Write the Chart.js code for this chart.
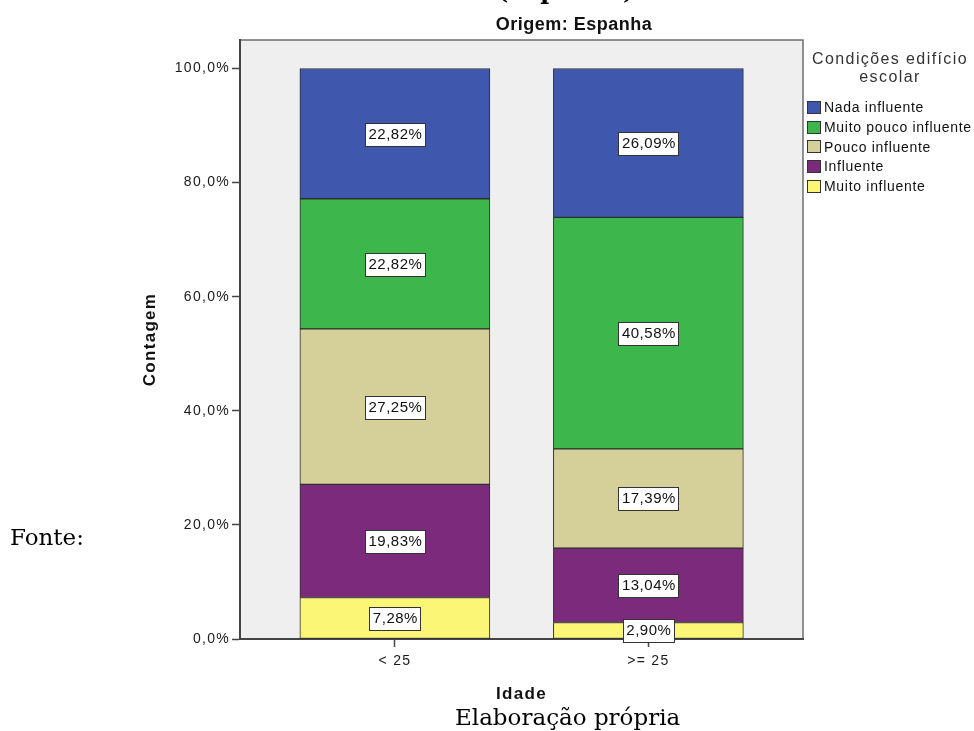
<!DOCTYPE html>
<html>
<head>
<meta charset="utf-8">
<script src="https://cdn.jsdelivr.net/npm/chart.js@4/dist/chart.umd.min.js"></script>
<style>
  html, body { margin: 0; padding: 0; background: #ffffff; }
  canvas { display: block; }
</style>
</head>
<body>
<canvas id="chart" width="974" height="731"></canvas>
<script>
// Age groups and their positions on the horizontal axis
const ageGroups = ['< 25', '>= 25'];
const groupPositions = [0, 1];

// Percent of answers per age group, stacked from the bottom up
const muitoInfluente = [7.28, 2.90];
const influente = [19.83, 13.04];
const poucoInfluente = [27.25, 17.39];
const muitoPoucoInfluente = [22.82, 40.58];
const nadaInfluente = [22.82, 26.09];

const seriesNames = ['Muito influente', 'Influente', 'Pouco influente', 'Muito pouco influente', 'Nada influente'];
const seriesValues = [muitoInfluente, influente, poucoInfluente, muitoPoucoInfluente, nadaInfluente];
const seriesColors = ['#fbf676', '#7b2a7c', '#d5cf99', '#3db74b', '#3f58ad'];

const yTicks = [0, 20, 40, 60, 80, 100];

const chartTitle = 'Origem: Espanha';
const legendTitle = ['Condições edifício', 'escolar'];
const headingAbove = '(Espanha)';
const sourceLabel = 'Fonte:';
const sourceText = 'Elaboração própria';

const SANS = "'Liberation Sans', Arial, sans-serif";
const SERIF = "'DejaVu Serif', 'Liberation Serif', serif";

const fmtPct = v => v.toFixed(2).replace('.', ',') + '%';
const fmtTick = v => v.toFixed(1).replace('.', ',') + '%';

// Grey plot panel with its frame
const panelPlugin = {
  id: 'panel',
  beforeDraw(chart) {
    const ctx = chart.ctx;
    const { left, top, right, bottom } = chart.chartArea;
    ctx.save();
    ctx.fillStyle = '#efefef';
    ctx.fillRect(left, top, right - left, bottom - top);
    ctx.strokeStyle = '#6f6f6f';
    ctx.lineWidth = 1.5;
    ctx.beginPath();
    ctx.moveTo(left, top);
    ctx.lineTo(right, top);
    ctx.lineTo(right, bottom);
    ctx.stroke();
    ctx.restore();
    ctx.letterSpacing = '1.3px';
  }
};

// Boxed percentage labels centred in every segment
const segmentLabels = {
  id: 'segmentLabels',
  afterDatasetsDraw(chart) {
    const ctx = chart.ctx;
    ctx.save();
    ctx.letterSpacing = '0.5px';
    ctx.font = '15px ' + SANS;
    ctx.textAlign = 'center';
    ctx.textBaseline = 'middle';
    chart.data.datasets.forEach((ds, di) => {
      const meta = chart.getDatasetMeta(di);
      meta.data.forEach((el, i) => {
        const { x, y, base } = el.getProps(['x', 'y', 'base'], true);
        const cy = Math.round((y + base) / 2);
        const text = fmtPct(ds.data[i].y);
        const w = Math.round(ctx.measureText(text).width) + 6;
        const h = 23;
        const bx = Math.round(x - w / 2) + 0.5;
        const by = Math.round(cy - h / 2) + 0.5;
        ctx.fillStyle = '#ffffff';
        ctx.fillRect(bx, by, w, h);
        ctx.strokeStyle = '#333333';
        ctx.lineWidth = 1;
        ctx.strokeRect(bx, by, w, h);
        ctx.fillStyle = '#111111';
        ctx.fillText(text, x + 0.5, cy + 1);
      });
    });
    ctx.restore();
  }
};

// Title, legend and surrounding text
const decorations = {
  id: 'decorations',
  afterDraw(chart) {
    const ctx = chart.ctx;
    ctx.save();

    ctx.letterSpacing = '0px';
    ctx.fillStyle = '#000000';
    ctx.font = 'bold 24px ' + SERIF;
    ctx.textAlign = 'left';
    ctx.textBaseline = 'alphabetic';
    ctx.fillText(headingAbove, 497, -1.5);

    ctx.font = '23px ' + SERIF;
    ctx.fillText(sourceLabel, 10, 545);
    ctx.fillText(sourceText, 455, 725);

    ctx.letterSpacing = '0.5px';
    ctx.fillStyle = '#111111';
    ctx.font = 'bold 18px ' + SANS;
    ctx.textAlign = 'center';
    ctx.textBaseline = 'middle';
    ctx.fillText(chartTitle, 574, 25);

    ctx.letterSpacing = '1.4px';
    ctx.font = '16px ' + SANS;
    ctx.fillStyle = '#333333';
    legendTitle.forEach((line, k) => ctx.fillText(line, 890, 60 + k * 18));

    ctx.letterSpacing = '0.7px';
    ctx.font = '14px ' + SANS;
    ctx.textAlign = 'left';
    ctx.fillStyle = '#111111';
    const order = chart.data.datasets.map((d, i) => i).reverse();
    order.forEach((di, row) => {
      const ds = chart.data.datasets[di];
      const cy = 107.5 + row * 19.7;
      ctx.fillStyle = ds.backgroundColor;
      ctx.fillRect(807, Math.round(cy - 6.5), 14, 13);
      ctx.strokeStyle = '#333333';
      ctx.lineWidth = 1;
      ctx.strokeRect(807.5, Math.round(cy - 6.5) + 0.5, 13, 12);
      ctx.fillStyle = '#111111';
      ctx.fillText(ds.label, 824, cy + 1);
    });

    ctx.restore();
  }
};

const datasets = seriesNames.map((name, s) => ({
  label: name,
  data: groupPositions.map((x, i) => ({ x: x, y: seriesValues[s][i] })),
  backgroundColor: seriesColors[s],
  borderColor: '#2e2e2e',
  borderWidth: 1,
  borderSkipped: false,
  barThickness: 190
}));

new Chart(document.getElementById('chart'), {
  type: 'bar',
  data: { datasets },
  plugins: [panelPlugin, segmentLabels, decorations],
  options: {
    responsive: false,
    animation: false,
    layout: { padding: { left: 140, right: 171, top: 40, bottom: 28 } },
    plugins: {
      legend: { display: false },
      title: { display: false },
      tooltip: { enabled: false }
    },
    scales: {
      x: {
        type: 'linear',
        stacked: true,
        offset: false,
        min: -0.611,
        max: 1.61,
        afterBuildTicks: s => { s.ticks = groupPositions.map(v => ({ value: v })); },
        afterFit: s => { s.height = 64; },
        ticks: {
          callback: v => ageGroups[v],
          autoSkip: false,
          maxRotation: 0,
          padding: 6,
          color: '#1a1a1a',
          font: { family: SANS, size: 14 }
        },
        grid: { offset: false, drawOnChartArea: false, drawTicks: true, tickLength: 8, tickColor: '#444444', tickWidth: 1.5 },
        border: { display: true, color: '#444444', width: 2 },
        title: {
          display: true,
          text: 'Idade',
          color: '#111111',
          padding: { top: 0, bottom: -2 },
          font: { family: SANS, size: 17, weight: 'bold' }
        }
      },
      y: {
        stacked: true,
        min: 0,
        max: 105,
        afterBuildTicks: s => { s.ticks = yTicks.map(v => ({ value: v })); },
        afterFit: s => { s.width = 100; },
        ticks: {
          callback: v => fmtTick(v),
          padding: 2,
          color: '#1a1a1a',
          font: { family: SANS, size: 14 }
        },
        grid: { drawOnChartArea: false, drawTicks: true, tickLength: 8, tickColor: '#444444', tickWidth: 1.5 },
        border: { display: true, color: '#444444', width: 2 },
        title: {
          display: true,
          text: 'Contagem',
          color: '#111111',
          padding: 0,
          font: { family: SANS, size: 17, weight: 'bold' }
        }
      }
    }
  }
});
</script>
</body>
</html>
